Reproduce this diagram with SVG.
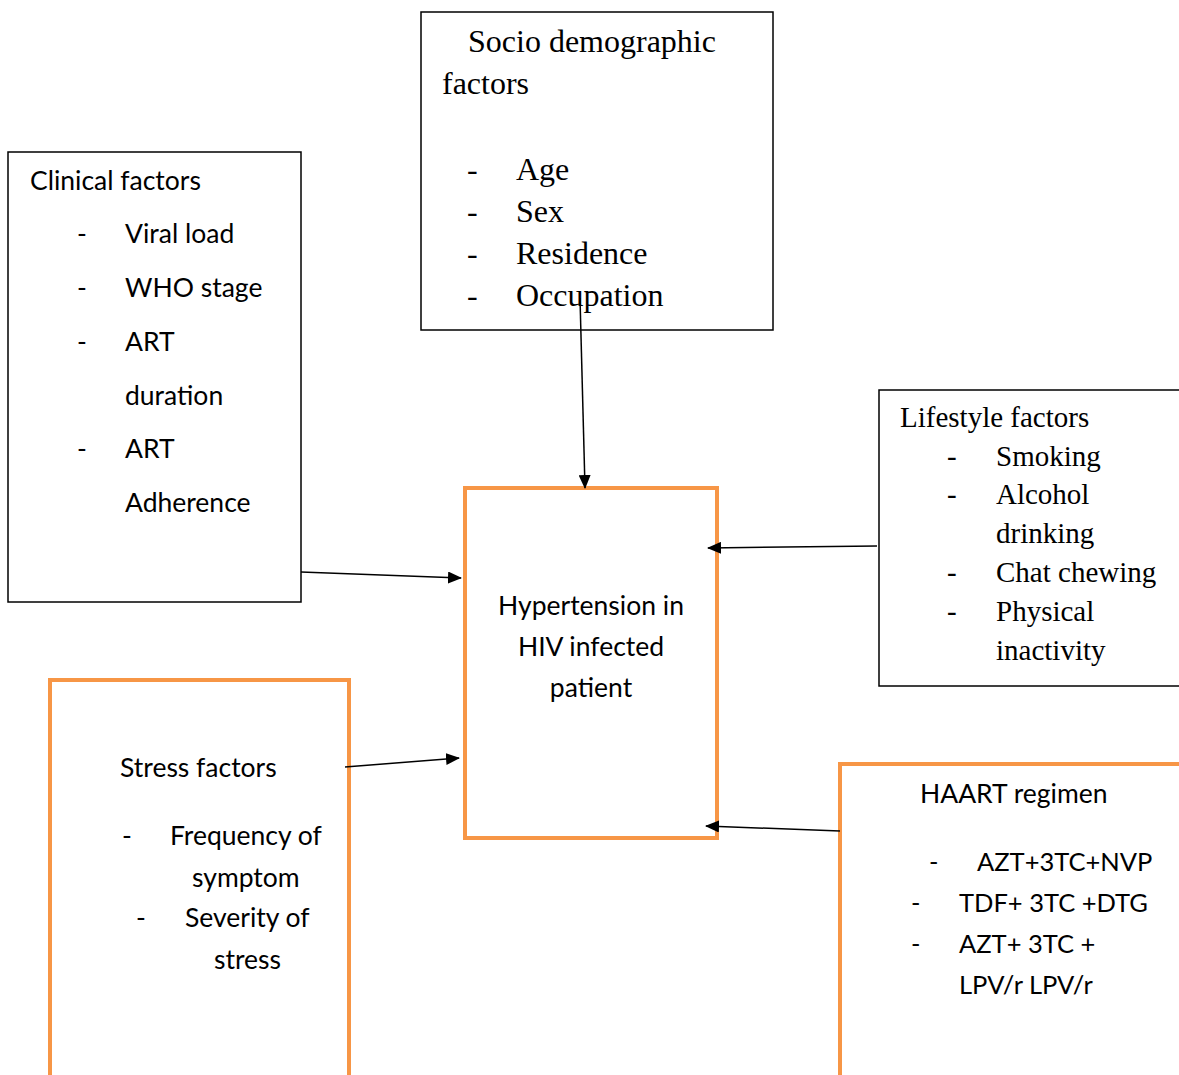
<svg xmlns="http://www.w3.org/2000/svg" width="1179" height="1075" viewBox="0 0 1179 1075">
<style>
.box{fill:#fff;stroke:#000;stroke-width:1.5}
.obox{fill:#fff;stroke:#F79646;stroke-width:4}
.t{font-family:"Liberation Serif",serif;font-size:29px;fill:#000}
.t2{font-family:"Liberation Serif",serif;font-size:32px;fill:#000}
.s{font-family:Lato,"Open Sans",sans-serif;font-size:26.5px;fill:#000}
.h{font-family:Lato,"Open Sans",sans-serif;font-size:25.5px;fill:#000}
.c{text-anchor:middle}
.conn{stroke:#000;stroke-width:1.5;fill:none}
</style>
<defs>
<marker id="ah" markerWidth="14" markerHeight="12" refX="13" refY="6" orient="auto" markerUnits="userSpaceOnUse" viewBox="0 0 14 12">
<path d="M0,0 L14,6 L0,12 z" fill="#000"/>
</marker>
</defs>
<rect width="1179" height="1075" fill="#fff"/>
<g id="socio">
<rect class="box" x="421" y="12" width="352" height="318"/>
<text class="t2" x="468" y="52">Socio demographic</text>
<text class="t2" x="442" y="94">factors</text>
<text class="t2" x="467" y="180">-</text><text class="t2" x="516" y="180">Age</text>
<text class="t2" x="467" y="222">-</text><text class="t2" x="516" y="222">Sex</text>
<text class="t2" x="467" y="264">-</text><text class="t2" x="516" y="264">Residence</text>
<text class="t2" x="467" y="306">-</text><text class="t2" x="516" y="306">Occupation</text>
</g>
<g id="clinical">
<rect class="box" x="8" y="152" width="293" height="450"/>
<text class="s" x="30" y="190">Clinical factors</text>
<text class="s" x="77" y="243">-</text><text class="s" x="125" y="243">Viral load</text>
<text class="s" x="77" y="297">-</text><text class="s" x="125" y="297">WHO stage</text>
<text class="s" x="77" y="351">-</text><text class="s" x="125" y="351">ART</text>
<text class="s" x="125" y="405">duration</text>
<text class="s" x="77" y="458">-</text><text class="s" x="125" y="458">ART</text>
<text class="s" x="125" y="512">Adherence</text>
</g>
<g id="lifestyle">
<rect class="box" x="879" y="390" width="310" height="296"/>
<text class="t" x="900" y="427">Lifestyle factors</text>
<text class="t" x="947" y="466">-</text><text class="t" x="996" y="466">Smoking</text>
<text class="t" x="947" y="504">-</text><text class="t" x="996" y="504">Alcohol</text>
<text class="t" x="996" y="543">drinking</text>
<text class="t" x="947" y="582">-</text><text class="t" x="996" y="582">Chat chewing</text>
<text class="t" x="947" y="621">-</text><text class="t" x="996" y="621">Physical</text>
<text class="t" x="996" y="660">inactivity</text>
</g>
<g id="stress">
<rect class="obox" x="50" y="680" width="299" height="420"/>
<text class="s" x="120" y="777">Stress factors</text>
<text class="s" x="122" y="845">-</text><text class="s" x="170" y="845">Frequency of</text>
<text class="s" x="192" y="887">symptom</text>
<text class="s" x="136" y="927">-</text><text class="s" x="185" y="927">Severity of</text>
<text class="s" x="214" y="969">stress</text>
</g>
<g id="haart">
<rect class="obox" x="840" y="764" width="360" height="340"/>
<text class="s" x="920" y="803">HAART regimen</text>
<text class="h" x="929" y="871">-</text><text class="h" x="977" y="871">AZT+3TC+NVP</text>
<text class="h" x="911" y="912">-</text><text class="h" x="959" y="912">TDF+ 3TC +DTG</text>
<text class="h" x="911" y="953">-</text><text class="h" x="959" y="953">AZT+ 3TC +</text>
<text class="h" x="959" y="994">LPV/r LPV/r</text>
</g>
<g id="outcome">
<rect class="obox" x="465" y="488" width="252" height="350"/>
<text class="s c" x="591" y="615">Hypertension in</text>
<text class="s c" x="591" y="656">HIV infected</text>
<text class="s c" x="591" y="697">patient</text>
</g>
<g id="connectors">
<line class="conn" x1="580" y1="298" x2="585" y2="488" marker-end="url(#ah)"/>
<line class="conn" x1="301" y1="572" x2="461" y2="578" marker-end="url(#ah)"/>
<line class="conn" x1="877" y1="546" x2="708" y2="548" marker-end="url(#ah)"/>
<line class="conn" x1="345" y1="767" x2="459" y2="758" marker-end="url(#ah)"/>
<line class="conn" x1="840" y1="831" x2="706" y2="826" marker-end="url(#ah)"/>
</g>
</svg>
